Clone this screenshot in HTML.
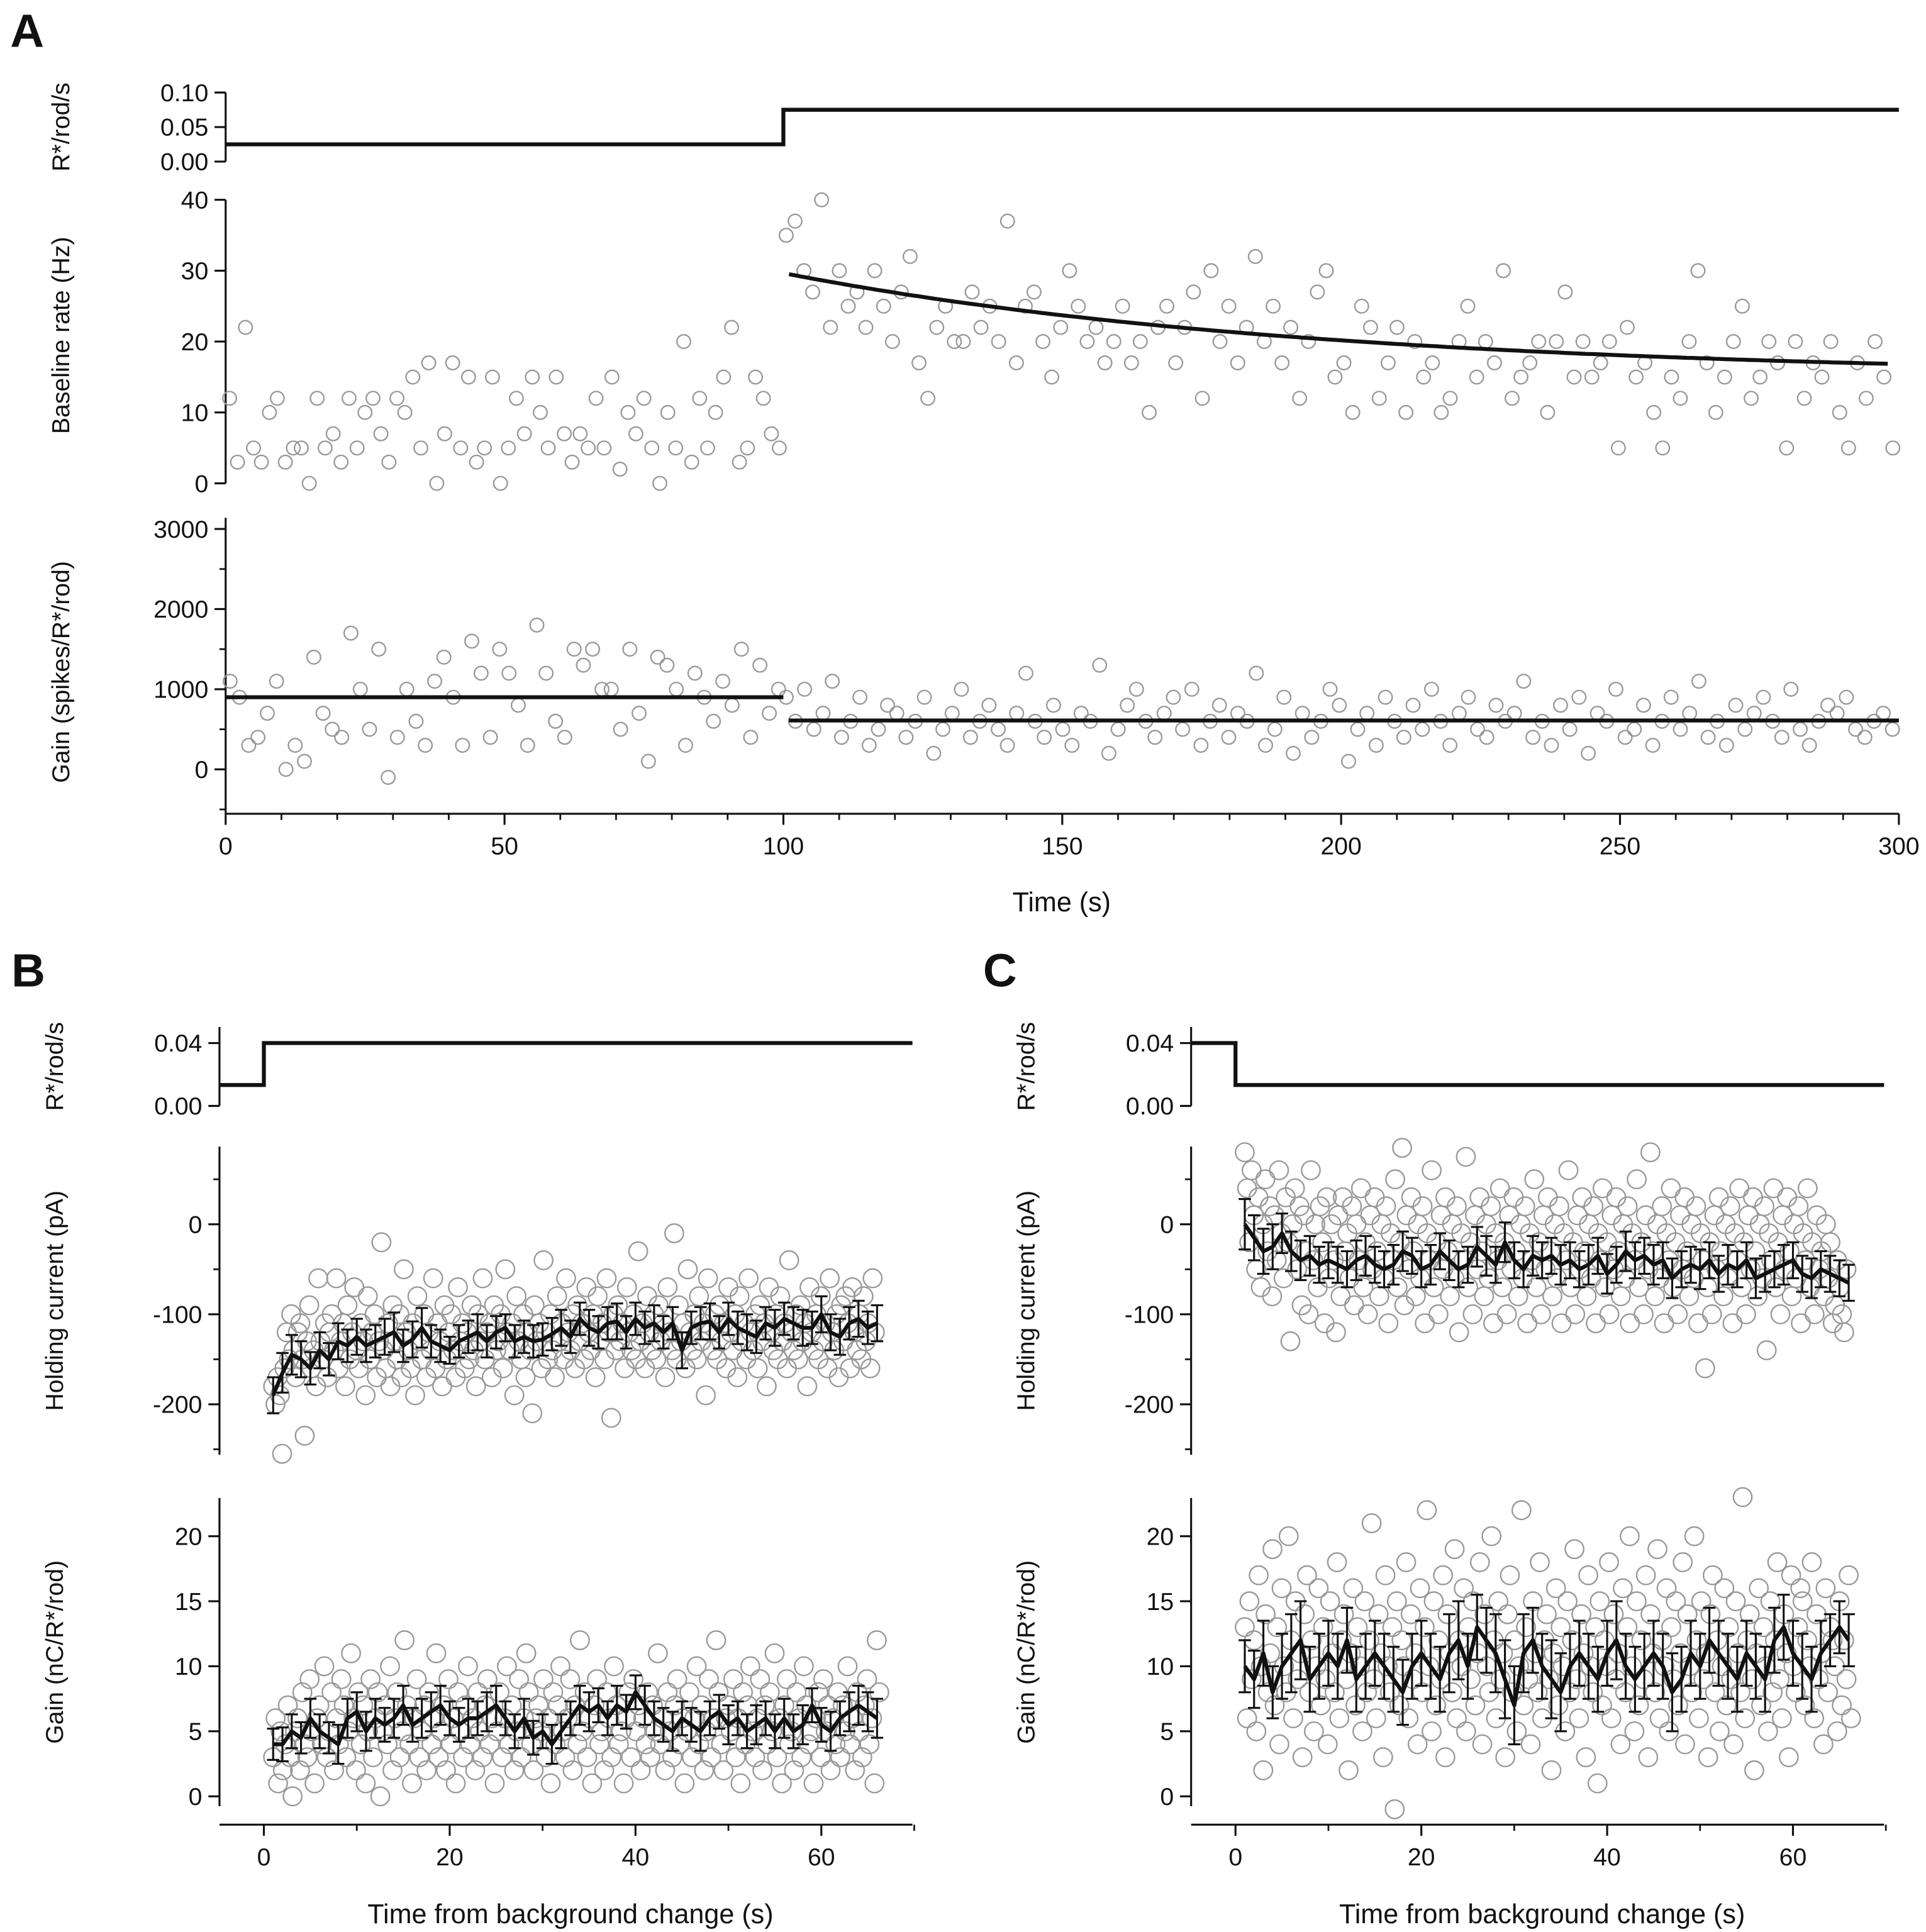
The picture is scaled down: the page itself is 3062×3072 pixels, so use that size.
<!DOCTYPE html>
<html><head><meta charset="utf-8"><style>
html,body{margin:0;padding:0;background:#fff}
svg{display:block;font-family:"Liberation Sans",Arial,sans-serif}
</style></head><body>
<svg id="fig" xmlns="http://www.w3.org/2000/svg" width="3062" height="3072" viewBox="0 0 1562 1567">
<rect width="1562" height="1567" fill="#fff"/>
<g id="root"></g>
</svg>
<script>
// ---------- DATA ----------
const aBaseEarly=[12,3,22,5,3,10,12,3,5,5,0,12,5,7,3,12,5,10,12,7,3,12,10,15,5,17,0,7,17,5,15,3,5,15,0,5,12,7,15,10,5,15,7,3,7,5,12,5,15,2,10,7,12,5,0,10,5,20,3,12,5,10,15,22,3,5,15,12,7,5];
const aBaseLate=[35,37,30,27,40,22,30,25,27,22,30,25,20,27,32,17,12,22,25,20,20,27,22,25,20,37,17,25,27,20,15,22,30,25,20,22,17,20,25,17,20,10,22,25,17,22,27,12,30,20,25,17,22,32,20,25,17,22,12,20,27,30,15,17,10,25,22,12,17,22,10,20,15,17,10,12,20,25,15,20,17,30,12,15,17,20,10,20,27,15,20,15,17,20,5,22,15,17,10,5,15,12,20,30,17,10,15,20,25,12,15,20,17,5,20,12,17,15,20,10,5,17,12,20,15,5];
const aGainEarly=[1100,900,300,400,700,1100,0,300,100,1400,700,500,400,1700,1000,500,1500,-100,400,1000,600,300,1100,1400,900,300,1600,1200,400,1500,1200,800,300,1800,1200,600,400,1500,1300,1500,1000,1000,500,1500,700,100,1400,1300,1000,300,1200,900,600,1100,800,1500,400,1300,700,1000];
const aGainLate=[900,600,1000,500,700,1100,400,600,900,300,500,800,700,400,600,900,200,500,700,1000,400,600,800,500,300,700,1200,600,400,800,500,300,700,600,1300,200,500,800,1000,600,400,700,900,500,1000,300,600,800,400,700,600,1200,300,500,900,200,700,400,600,1000,800,100,500,700,300,900,600,400,800,500,1000,600,300,700,900,500,400,800,600,700,1100,400,600,300,800,500,900,200,700,600,1000,400,500,800,300,600,900,500,700,1100,400,600,300,800,500,700,900,600,400,1000,500,300,600,800,700,900,500,400,600,700,500];
const aStim=[0.025,0.075];
const aFitPre=900, aFitPost=610;
const aExpBase=15, aExpAmp=14.5, aExpTau=96;

const bHoldMean=[-190,-165,-145,-150,-160,-140,-150,-130,-135,-125,-135,-130,-125,-120,-135,-128,-115,-130,-135,-140,-130,-125,-120,-130,-120,-115,-130,-125,-130,-128,-122,-115,-125,-105,-115,-120,-110,-108,-120,-105,-115,-110,-120,-110,-140,-115,-110,-108,-120,-105,-115,-120,-125,-110,-115,-105,-110,-115,-115,-100,-120,-125,-110,-105,-115,-110];
const bHoldErr=[20,22,22,20,18,20,18,20,18,20,18,18,20,22,18,20,22,18,18,15,18,18,20,18,18,15,18,18,18,18,18,20,18,18,20,18,18,20,18,18,18,20,18,18,20,18,18,20,18,18,18,20,18,18,20,18,18,20,18,20,20,20,18,20,18,20];
const bHoldPts=[-180,-200,-170,-190,-255,-160,-120,-150,-100,-140,-170,-120,-110,-150,-235,-130,-90,-160,-140,-180,-60,-130,-150,-110,-170,-120,-100,-140,-60,-160,-130,-110,-180,-90,-150,-120,-70,-140,-160,-110,-130,-190,-80,-150,-120,-100,-170,-130,-20,-140,-160,-110,-180,-90,-130,-150,-100,-170,-50,-120,-140,-160,-110,-190,-80,-130,-150,-100,-170,-120,-140,-60,-160,-110,-130,-180,-90,-150,-120,-100,-140,-170,-70,-130,-110,-160,-120,-150,-90,-140,-180,-100,-130,-60,-150,-120,-110,-170,-90,-140,-130,-100,-160,-50,-120,-140,-110,-190,-80,-130,-150,-100,-170,-120,-140,-210,-90,-130,-110,-160,-40,-120,-150,-100,-140,-170,-80,-130,-110,-150,-60,-120,-140,-100,-160,-90,-130,-110,-150,-70,-120,-140,-100,-170,-80,-130,-110,-150,-60,-120,-215,-100,-140,-90,-130,-110,-160,-70,-120,-140,-100,-150,-30,-130,-110,-160,-80,-120,-140,-100,-150,-90,-130,-110,-170,-70,-120,-140,-10,-150,-90,-130,-110,-160,-50,-120,-140,-100,-150,-80,-130,-110,-190,-60,-120,-140,-100,-150,-90,-130,-110,-160,-70,-120,-140,-100,-170,-80,-130,-110,-150,-60,-120,-140,-100,-160,-90,-130,-110,-180,-70,-120,-140,-100,-150,-80,-130,-110,-160,-40,-120,-140,-100,-150,-90,-130,-110,-180,-70,-120,-140,-100,-150,-80,-130,-110,-160,-60,-120,-140,-100,-170,-90,-130,-80,-110,-160,-70,-120,-140,-100,-150,-80,-130,-110,-160,-60,-120];
const bGainMean=[4,4,5,4.5,6,5,4.5,4,6,6.5,5,6,5.5,6,7,5.5,6,6.5,7,6,5.5,6,6,6.5,7,6,5,6,4.5,5,4,5,6,7,6.5,7,6,7,6.5,8,7,6,5.5,5,6,5.5,5,6,6.5,5.5,6,5,5.5,6,5,6,5,5.5,7,5.5,5,6,6.5,7,6.5,6];
const bGainErr=[1.2,1.3,1.3,1.2,1.5,1.3,1.2,1.5,1.5,1.5,1.5,1.5,1.3,1.5,1.5,1.3,1.5,1.5,1.5,1.3,1.3,1.5,1.3,1.5,1.5,1.3,1.3,1.5,1.3,1.3,1.5,1.3,1.3,1.5,1.5,1.3,1.3,1.5,1.3,1.3,1.5,1.3,1.3,1.5,1.3,1.3,1.5,1.3,1.3,1.5,1.3,1.3,1.5,1.3,1.3,1.5,1.3,1.5,1.3,1.3,1.5,1.3,1.5,1.5,1.5,1.5];
const bGainPts=[3,6,1,5,2,4,7,3,0,5,6,2,8,4,3,9,5,1,6,7,4,10,3,5,8,2,6,4,9,7,3,5,11,6,2,8,4,7,1,5,9,3,6,8,0,5,7,4,10,2,6,8,3,5,12,7,4,1,6,9,3,5,7,2,8,4,6,11,3,5,7,2,9,4,6,1,8,5,3,7,10,4,6,2,8,5,3,7,9,4,6,1,5,8,3,6,10,4,7,2,5,9,3,6,11,8,4,2,6,7,5,9,3,6,1,8,4,7,10,5,3,6,9,2,7,4,12,5,8,3,6,1,7,9,4,5,2,8,6,3,10,7,4,5,1,6,8,3,9,5,7,2,6,4,8,3,7,5,11,4,6,2,8,5,3,7,9,4,6,1,5,8,3,6,10,4,7,2,5,9,3,6,12,8,4,2,6,7,5,9,3,6,1,8,4,7,10,5,3,6,9,2,7,4,8,5,11,3,6,1,7,9,4,5,2,8,6,3,10,7,4,5,1,6,8,3,9,5,7,2,6,4,8,3,7,5,10,4,6,2,8,5,3,7,9,4,6,1,12,8];
const cHoldMean=[0,-15,-30,-25,-10,-30,-40,-35,-45,-40,-45,-50,-40,-35,-45,-50,-45,-30,-35,-50,-45,-30,-40,-50,-45,-25,-35,-45,-20,-40,-50,-35,-40,-35,-45,-40,-50,-45,-35,-55,-45,-30,-40,-35,-45,-40,-60,-50,-45,-50,-40,-55,-45,-50,-40,-60,-55,-50,-45,-40,-55,-60,-50,-55,-60,-65];
const cHoldErr=[28,25,25,25,22,22,22,22,20,20,20,20,22,22,20,20,22,22,20,20,22,20,22,20,20,22,22,20,22,20,20,22,20,20,22,20,20,22,20,22,20,22,20,20,22,20,22,20,20,22,20,20,22,20,20,22,20,20,22,20,20,22,20,20,20,20];
const cHoldPts=[80,40,-20,60,10,-50,30,-70,0,50,-30,20,-80,10,-40,60,-10,-60,30,-20,-130,0,40,-50,20,-90,10,-30,-100,60,-40,0,-70,20,-20,-110,30,-60,0,-40,-120,10,-80,30,-30,-10,-60,20,-90,0,-40,40,-70,-20,-100,10,-50,30,-30,-80,0,-60,20,-110,-10,-40,50,-70,-20,85,-90,10,-50,30,-30,-80,0,-60,20,-110,-10,-40,60,-70,-20,-100,10,-50,30,-30,-80,0,-60,20,-120,-10,-40,75,-70,-20,-100,10,-50,30,-30,-80,0,-60,20,-110,-10,-40,40,-70,-20,-100,10,-50,30,-30,-80,0,-60,20,-110,-10,-40,50,-70,-20,-100,10,-50,30,-30,-80,0,-60,20,-110,-10,-40,60,-70,-20,-100,10,-50,30,-30,-80,0,-60,20,-110,-10,-40,40,-70,-20,-100,10,-50,30,-30,-80,0,-60,20,-110,-10,-40,50,-70,-20,-100,10,-50,80,-30,-80,0,-60,20,-110,-10,-40,40,-70,-20,-100,10,-50,30,-30,-80,0,-60,20,-110,-10,-40,-160,-70,-20,-100,10,-50,30,-30,-80,0,-60,20,-110,-10,-40,40,-70,-20,-100,10,-50,30,-30,-80,0,-60,20,-140,-10,-40,40,-70,-20,-100,10,-50,30,-30,-80,0,-60,20,-110,-10,-40,40,-70,-20,-100,10,-50,-30,-80,0,-60,-20,-110,-90,-40,-70,-100,-120,-50];
const cGainMean=[10,9,11,8,10,11,12,9,10,11,10,12,9,10,11,10,9,8,10,11,10,9,11,12,10,13,12,11,9,7,11,12,10,9,8,10,11,10,9,11,12,10,9,10,11,10,8,9,11,10,12,11,10,9,11,10,9,12,13,11,10,9,11,12,13,12];
const cGainErr=[2,2.2,2.5,2,2.5,3,3,2.5,2.5,2.5,2.5,2.5,2.5,2.5,2.5,2.5,2.5,2.5,2.5,2.5,2.5,2.5,3,3,2.5,2.5,2.5,3,3,3,3,2.5,2.5,3,3,2.5,2.5,2.5,2.5,2.5,3,2.5,2.5,2.5,2.5,2.5,3,2.5,2.5,2.5,2.5,2.5,2.5,2.5,2.5,2.5,2.5,2.5,2.5,2.5,2.5,2.5,2.5,2,2,2];
const cGainPts=[13,6,15,9,12,5,17,10,2,14,8,11,19,7,13,4,16,10,8,20,12,6,15,9,11,3,14,17,8,12,5,10,16,7,13,9,4,15,11,8,18,6,12,14,9,2,11,16,7,13,10,5,15,8,12,21,9,6,14,11,3,17,10,8,13,-1,15,7,12,10,18,6,14,9,11,4,16,8,13,22,10,5,15,7,12,9,17,3,14,11,8,19,6,12,10,16,5,13,9,15,7,11,18,4,14,10,8,20,12,6,15,9,11,3,14,17,8,12,5,10,22,7,13,9,4,15,11,8,18,6,12,14,9,2,11,16,7,13,10,5,15,8,12,19,9,6,14,11,3,17,10,8,13,1,15,7,12,10,18,6,14,9,11,4,16,8,13,20,10,5,15,7,12,9,17,3,14,11,8,19,6,12,10,16,5,13,9,15,7,11,18,4,14,10,8,20,12,6,15,9,11,3,14,17,8,12,5,10,16,7,13,9,4,15,11,8,23,6,12,14,9,2,11,16,7,13,10,5,15,8,12,18,9,6,14,11,3,17,10,8,13,16,15,7,12,10,18,6,14,9,11,4,16,8,13,12,10,5,15,7,12,9,17,6];
const bStim=[0.0133,0.04];
const cStim=[0.04,0.0133];

// ---------- DRAWING ----------
const NS="http://www.w3.org/2000/svg";
const root=document.getElementById('root');
function el(tag,attrs,parent,name,text){
  const e=document.createElementNS(NS,tag);
  for(const k in attrs)e.setAttribute(k,attrs[k]);
  
  
  if(text!==undefined)e.textContent=text;
  (parent||root).appendChild(e);return e;
}
function lin(d0,d1,p0,p1){return v=>p0+(v-d0)*(p1-p0)/(d1-d0);}
function line(x1,y1,x2,y2,w,name,g,col){return el('line',{x1,y1,x2,y2,stroke:col||'#111','stroke-width':w||1.6},g,name);}
function txt(x,y,s,anchor,size,name,g,rot){
  const a={x,y,'font-size':size||20,'text-anchor':anchor||'middle',fill:'#111'};
  if(rot)a.transform='rotate(-90 '+x+' '+y+')';
  return el('text',a,g,name,s);
}
function yAxis(x,y0,y1,ticks,labels,sy,name,minors){
  const g=el('g',{},null,name);
  line(x,y0,x,y1,1.6,name+'-line',g);
  ticks.forEach((t,i)=>{const y=sy(t);line(x-9,y,x,y,1.6,name+'-tick',g);
    txt(x-14,y+7,labels[i],'end',20,name+'-tick-label',g);});
  (minors||[]).forEach(t=>{const y=sy(t);line(x-5,y,x,y,1.4,name+'-minor-tick',g);});
  return g;
}
function xAxis(y,x0,x1,ticks,labels,sx,name,minors){
  const g=el('g',{},null,name);
  line(x0,y,x1,y,1.6,name+'-line',g);
  ticks.forEach((t,i)=>{const x=sx(t);line(x,y,x,y+9,1.6,name+'-tick',g);
    txt(x,y+33,labels[i],'middle',20,name+'-tick-label',g);});
  (minors||[]).forEach(t=>{const x=sx(t);line(x,y,x,y+5,1.4,name+'-minor-tick',g);});
}
function scatter(xs,ys,sx,sy,r,name){
  const g=el('g',{fill:'none',stroke:'#999','stroke-width':1.2},null,name);
  ys.forEach((v,i)=>{const c=el('circle',{cx:sx(xs[i]).toFixed(1),cy:sy(v).toFixed(1),r},g,'data-point');});
}
function meanErr(means,errs,sx,sy,name){
  const g=el('g',{},null,name);
  let d='';
  means.forEach((m,i)=>{const t=i+1,x=sx(t);
    d+=(i?'L':'M')+x.toFixed(1)+','+sy(m).toFixed(1);
    const e=errs[i];
    line(x,sy(m-e),x,sy(m+e),1.6,'error-bar',g);
    line(x-5,sy(m-e),x+5,sy(m-e),1.6,'error-cap',g);
    line(x-5,sy(m+e),x+5,sy(m+e),1.6,'error-cap',g);
  });
  el('path',{d,fill:'none',stroke:'#111','stroke-width':3.2,'stroke-linejoin':'round'},g,'mean-line');
}

// ---- Panel A ----
txt(22,38,'A','middle',38,'panel-label-a',null).setAttribute('font-weight','bold');
const axA=lin(0,300,183,1540);
const sAs=lin(0,0.1,131,75);
yAxis(183,75,131,[0,0.05,0.1],['0.00','0.05','0.10'],sAs,'a-stim-y-axis');
el('path',{d:`M183,${sAs(aStim[0])}H${axA(100)}V${sAs(aStim[1])}H${axA(300)}`,fill:'none',stroke:'#111','stroke-width':3.2},null,'a-stimulus-trace');
txt(56,103,'R*/rod/s','middle',20,'a-stim-y-title',null,true);
const sAb=lin(0,40,392,162);
yAxis(183,162,392,[0,10,20,30,40],['0','10','20','30','40'],sAb,'a-baseline-y-axis');
txt(56,272,'Baseline rate (Hz)','middle',20,'a-baseline-y-title',null,true);
scatter(aBaseEarly.map((v,i)=>i*100/aBaseEarly.length+0.7),aBaseEarly,axA,sAb,5.5,'a-baseline-early-points');
scatter(aBaseLate.map((v,i)=>100+i*200/aBaseLate.length+0.5),aBaseLate,axA,sAb,5.5,'a-baseline-late-points');
{let d='';for(let t=101;t<=298;t+=1){const v=aExpBase+aExpAmp*Math.exp(-(t-101)/aExpTau);d+=(t==101?'M':'L')+axA(t).toFixed(1)+','+sAb(v).toFixed(1);}
el('path',{d,fill:'none',stroke:'#111','stroke-width':3.2},null,'a-baseline-fit');}
const sAg=lin(0,3000,624,429);
yAxis(183,420,660,[0,1000,2000,3000],['0','1000','2000','3000'],sAg,'a-gain-y-axis',[-500,500,1500,2500]);
txt(56,545,'Gain (spikes/R*/rod)','middle',20,'a-gain-y-title',null,true);
scatter(aGainEarly.map((v,i)=>i*100/aGainEarly.length+0.8),aGainEarly,axA,sAg,5.5,'a-gain-early-points');
scatter(aGainLate.map((v,i)=>100+i*200/aGainLate.length+0.5),aGainLate,axA,sAg,5.5,'a-gain-late-points');
line(axA(0),sAg(aFitPre),axA(100),sAg(aFitPre),3.2,'a-gain-fit-pre');
line(axA(101),sAg(aFitPost),axA(300),sAg(aFitPost),3.2,'a-gain-fit-post');
xAxis(660,183,1540,[0,50,100,150,200,250,300],['0','50','100','150','200','250','300'],axA,'a-x-axis',[10,20,30,40,60,70,80,90,110,120,130,140,160,170,180,190,210,220,230,240,260,270,280,290]);
txt(861,739,'Time (s)','middle',22,'a-x-title',null);

// ---- Panels B & C ----
function panelBC(ax0,zeroX,axEnd,letter,stim,hm,he,hp,gm,ge,gp,key){
  txt(ax0-155,800,letter,'middle',38,'panel-label-'+key,null).setAttribute('font-weight','bold');
  const sx=lin(0,20,zeroX,zeroX+150.7);
  const ss=lin(0,0.04,897,846);
  yAxis(ax0,833,897,[0,0.04],['0.00','0.04'],ss,key+'-stim-y-axis');
  el('path',{d:`M${ax0},${ss(stim[0])}H${zeroX}V${ss(stim[1])}H${axEnd}`,fill:'none',stroke:'#111','stroke-width':3.2},null,key+'-stimulus-trace');
  txt(ax0-127,865,'R*/rod/s','middle',20,key+'-stim-y-title',null,true);
  const sh=lin(0,-200,993,1139);
  yAxis(ax0,930,1180,[0,-100,-200],['0','-100','-200'],sh,key+'-holding-y-axis',[50,-50,-150,-250]);
  txt(ax0-127,1055,'Holding current (pA)','middle',20,key+'-holding-y-title',null,true);
  const hx=hp.map((v,i)=>1+i*65/hp.length);
  scatter(hx,hp,sx,sh,7.5,key+'-holding-points');
  meanErr(hm,he,sx,sh,key+'-holding-mean');
  const sg=lin(0,20,1457,1246);
  yAxis(ax0,1215,1465,[0,5,10,15,20],['0','5','10','15','20'],sg,key+'-gain-y-axis');
  txt(ax0-127,1340,'Gain (nC/R*/rod)','middle',20,key+'-gain-y-title',null,true);
  const gx=gp.map((v,i)=>1+i*65.5/gp.length);
  scatter(gx,gp,sx,sg,7.5,key+'-gain-points');
  meanErr(gm,ge,sx,sg,key+'-gain-mean');
  xAxis(1480,ax0,axEnd,[0,20,40,60],['0','20','40','60'],sx,key+'-x-axis',[10,30,50,70]);
  txt(sx(33),1560,'Time from background change (s)','middle',22,key+'-x-title',null);
}
panelBC(178,214,740,'B',bStim,bHoldMean,bHoldErr,bHoldPts,bGainMean,bGainErr,bGainPts,'b');
panelBC(966,1002,1528,'C',cStim,cHoldMean,cHoldErr,cHoldPts,cGainMean,cGainErr,cGainPts,'c');
</script>
</body></html>
